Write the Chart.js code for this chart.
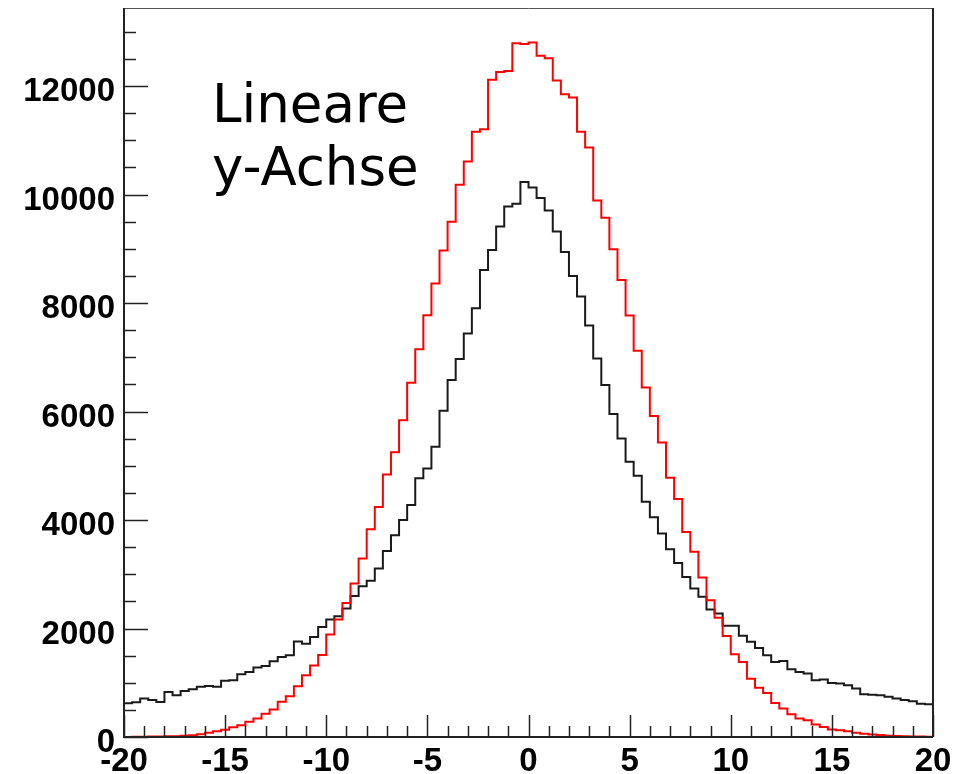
<!DOCTYPE html>
<html>
<head>
<meta charset="utf-8">
<script src="https://cdn.jsdelivr.net/npm/chart.js@4"></script>
<style>
  html, body { margin: 0; padding: 0; background: #fff; }
  #wrap { width: 955px; height: 774px; position: relative; }
</style>
</head>
<body>
<div id="wrap"><canvas id="hist"></canvas></div>
<script>
// Histogramm: 100 Bins von -20 bis 20
const xMin = -20;
const xMax = 20;
const nBins = 100;

// rote Verteilung (schmal)
const redCounts = [
    0, 3, 6, 8, 10, 12, 15, 22, 30, 50,
    80, 105, 135, 180, 215, 280, 340, 430, 505, 650,
    750, 935, 1140, 1320, 1510, 1890, 2165, 2470, 2830, 3290,
    3830, 4240, 4840, 5250, 5840, 6530, 7150, 7775, 8360, 8970,
    9500, 10180, 10610, 11160, 11205, 12115, 12260, 12280, 12790, 12775,
    12805, 12560, 12515, 12105, 11850, 11790, 11160, 10870, 9890, 9575,
    8990, 8425, 7770, 7120, 6445, 5920, 5430, 4780, 4390, 3780,
    3415, 2940, 2520, 2200, 1860, 1525, 1385, 1075, 910, 810,
    625, 525, 420, 340, 310, 230, 185, 140, 125, 105,
    80, 60, 45, 35, 25, 20, 15, 10, 8, 5
];

// schwarze Verteilung (breite Ausläufer)
const blackCounts = [
    620, 640, 710, 680, 645, 830, 770, 850, 880, 925,
    940, 925, 1035, 1045, 1155, 1200, 1280, 1310, 1395, 1475,
    1505, 1760, 1720, 1845, 2030, 2165, 2225, 2370, 2600, 2780,
    2880, 3105, 3430, 3720, 4000, 4275, 4770, 4950, 5350, 6015,
    6580, 6970, 7440, 7905, 8610, 8980, 9410, 9780, 9830, 10230,
    10130, 9935, 9705, 9320, 8940, 8500, 8120, 7585, 6980, 6490,
    5955, 5505, 5075, 4815, 4335, 4050, 3750, 3460, 3210, 2950,
    2740, 2585, 2350, 2275, 2050, 2050, 1865, 1755, 1640, 1505,
    1385, 1400, 1250, 1200, 1170, 1045, 1060, 995, 985, 955,
    895, 790, 780, 770, 740, 710, 680, 660, 615, 605
];

const yMax = 13440;
const yTickValues = [0, 2000, 4000, 6000, 8000, 10000, 12000];
const xTickValues = [-20, -15, -10, -5, 0, 5, 10, 15, 20];
const yMinor = 500, xMinor = 1;
const annotation = ['Lineare', 'y-Achse'];

// Stufenpunkte: linke Binkante + Endpunkt bei xMax
function toSteps(counts) {
    const w = (xMax - xMin) / nBins;
    const pts = counts.map((v, i) => ({ x: xMin + i * w, y: v }));
    pts.push({ x: xMax, y: counts[counts.length - 1] });
    return pts;
}

const tickFont = { family: "'Liberation Sans', Arial, Helvetica, sans-serif", size: 33, weight: 'bold' };

// ROOT-artiger Rahmen mit Ticks nach innen + Beschriftung
const rootFrame = {
    id: 'rootFrame',
    afterDraw(chart) {
        const { ctx, chartArea: a, scales } = chart;
        const xs = scales.x, ys = scales.y;
        ctx.save();
        ctx.strokeStyle = '#222';
        ctx.lineWidth = 1.5;
        // y-Ticks
        for (let v = 0; v <= yMax; v += yMinor) {
            const y = Math.round(ys.getPixelForValue(v)) + 0.5;
            const len = yTickValues.includes(v) ? 24 : 12;
            ctx.beginPath(); ctx.moveTo(a.left, y); ctx.lineTo(a.left + len, y); ctx.stroke();
        }
        // x-Ticks
        for (let v = xMin; v <= xMax; v += xMinor) {
            const x = Math.round(xs.getPixelForValue(v)) + 0.5;
            const len = xTickValues.includes(v) ? 22 : 11;
            ctx.beginPath(); ctx.moveTo(x, a.bottom); ctx.lineTo(x, a.bottom - len); ctx.stroke();
        }
        // Rahmen
        ctx.lineWidth = 1;
        ctx.strokeStyle = '#555';
        ctx.beginPath(); ctx.moveTo(a.left, a.top + 0.5); ctx.lineTo(a.right, a.top + 0.5); ctx.stroke();
        ctx.lineWidth = 2;
        ctx.strokeStyle = '#222';
        ctx.beginPath(); ctx.moveTo(a.right, a.top); ctx.lineTo(a.right, a.bottom); ctx.stroke();
        ctx.beginPath(); ctx.moveTo(a.left, a.top); ctx.lineTo(a.left, a.bottom); ctx.lineTo(a.right, a.bottom); ctx.stroke();
        // Text
        ctx.fillStyle = '#000';
        ctx.font = "53px 'DejaVu Sans', Verdana, sans-serif";
        ctx.textBaseline = 'alphabetic';
        ctx.fillText(annotation[0], a.left + 88, a.top + 114);
        ctx.fillText(annotation[1], a.left + 88, a.top + 177);
        ctx.restore();
    }
};

const chart = new Chart(document.getElementById('hist').getContext('2d'), {
    type: 'line',
    data: {
        datasets: [
            {
                label: 'rot',
                data: toSteps(redCounts),
                borderColor: '#ff0000',
                borderWidth: 2,
                stepped: 'before',
                pointRadius: 0,
                fill: false
            },
            {
                label: 'schwarz',
                data: toSteps(blackCounts),
                borderColor: '#1a1a1a',
                borderWidth: 2,
                stepped: 'before',
                pointRadius: 0,
                fill: false
            }
        ]
    },
    options: {
        responsive: true,
        maintainAspectRatio: false,
        animation: false,
        layout: { padding: { top: 8, right: 22, left: 0, bottom: 0 } },
        plugins: { legend: { display: false }, tooltip: { enabled: false }, title: { display: false } },
        scales: {
            x: {
                type: 'linear',
                min: xMin,
                max: xMax,
                grid: { display: false, drawTicks: false },
                border: { display: false },
                ticks: { color: '#000', font: tickFont, padding: 5, maxRotation: 0, autoSkip: false, callback: v => String(v) },
                afterBuildTicks(s) { s.ticks = xTickValues.map(v => ({ value: v })); },
                afterFit(s) { s.height = 37; s.paddingLeft = 0; s.paddingRight = 0; }
            },
            y: {
                type: 'linear',
                min: 0,
                max: yMax,
                grid: { display: false, drawTicks: false },
                border: { display: false },
                ticks: { color: '#000', font: tickFont, padding: 9, labelOffset: 6, autoSkip: false, callback: v => String(v) },
                afterBuildTicks(s) { s.ticks = yTickValues.map(v => ({ value: v })); },
                afterFit(s) { s.width = 124; s.paddingTop = 0; s.paddingBottom = 0; }
            }
        }
    },
    plugins: [rootFrame]
});
</script>
</body>
</html>
